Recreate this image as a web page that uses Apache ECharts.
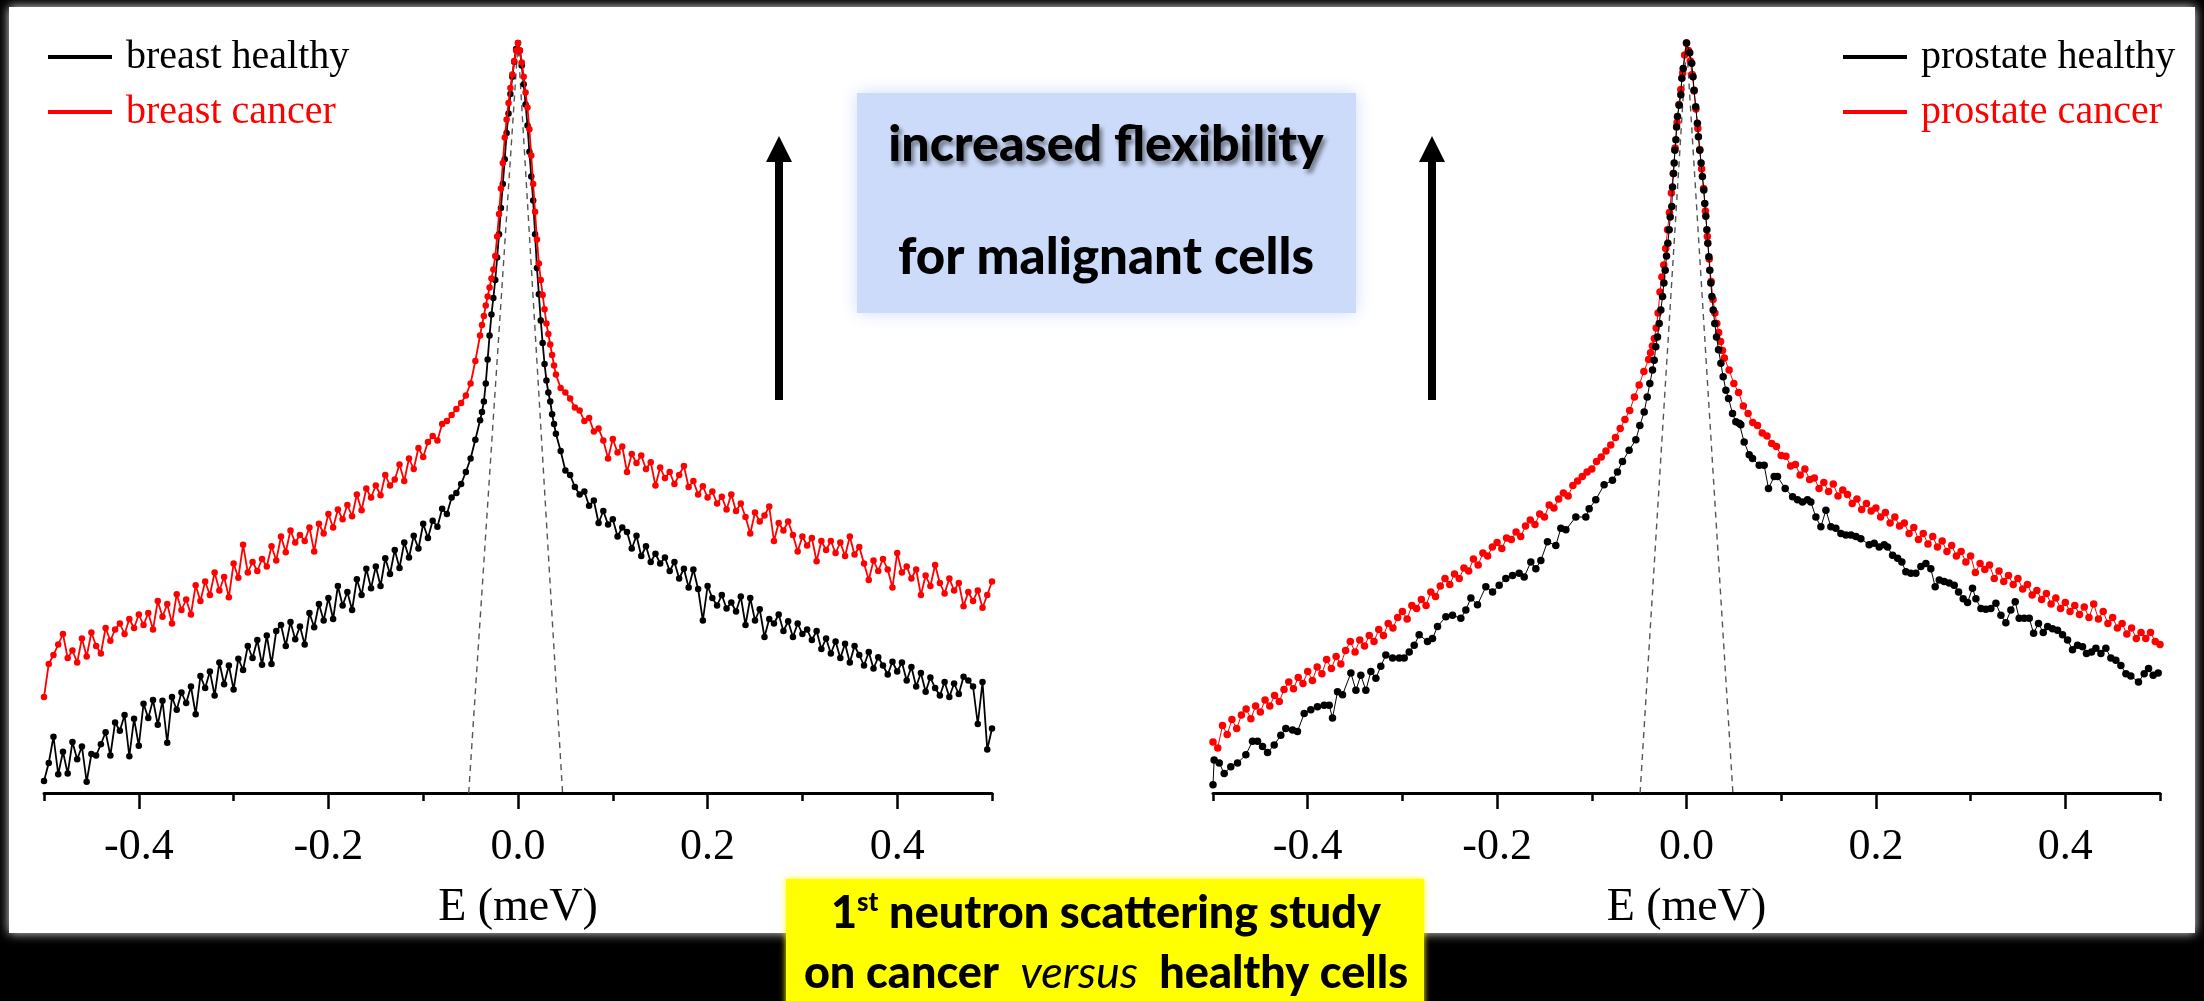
<!DOCTYPE html>
<html><head><meta charset="utf-8">
<script src="https://cdn.jsdelivr.net/npm/echarts@6/dist/echarts.min.js"></script>
<style>html,body{margin:0;padding:0;background:#000;}#c{width:2204px;height:1001px;}</style>
</head><body><div id="c"></div>
<script>
// ---------- energy grid (meV) shared by breast series and prostate cancer ----------
const energyGrid = [
-0.500,-0.495,-0.490,-0.485,-0.480,-0.475,-0.470,-0.465,-0.460,-0.455,
-0.450,-0.445,-0.440,-0.435,-0.430,-0.425,-0.420,-0.415,-0.410,-0.405,
-0.400,-0.395,-0.390,-0.385,-0.380,-0.375,-0.370,-0.365,-0.360,-0.355,
-0.350,-0.345,-0.340,-0.335,-0.330,-0.325,-0.320,-0.315,-0.310,-0.305,
-0.300,-0.295,-0.290,-0.285,-0.280,-0.275,-0.270,-0.265,-0.260,-0.255,
-0.250,-0.245,-0.240,-0.235,-0.230,-0.225,-0.220,-0.215,-0.210,-0.205,
-0.200,-0.195,-0.190,-0.185,-0.180,-0.175,-0.170,-0.165,-0.160,-0.155,
-0.150,-0.145,-0.140,-0.135,-0.130,-0.125,-0.120,-0.115,-0.110,-0.105,
-0.100,-0.095,-0.090,-0.085,-0.080,-0.075,-0.070,-0.065,-0.060,-0.055,
-0.050,-0.045,
-0.040,-0.038,-0.036,-0.034,-0.032,-0.030,-0.028,-0.026,-0.024,-0.022,
-0.020,-0.018,-0.016,-0.014,-0.012,-0.010,-0.008,-0.006,-0.004,-0.002,
0.000,
0.002,0.004,0.006,0.008,0.010,0.012,0.014,0.016,0.018,0.020,
0.022,0.024,0.026,0.028,0.030,0.032,0.034,0.036,0.038,0.040,
0.045,0.050,0.055,0.060,0.065,0.070,0.075,0.080,0.085,0.090,
0.095,0.100,0.105,0.110,0.115,0.120,0.125,0.130,0.135,0.140,
0.145,0.150,0.155,0.160,0.165,0.170,0.175,0.180,0.185,0.190,
0.195,0.200,0.205,0.210,0.215,0.220,0.225,0.230,0.235,0.240,
0.245,0.250,0.255,0.260,0.265,0.270,0.275,0.280,0.285,0.290,
0.295,0.300,0.305,0.310,0.315,0.320,0.325,0.330,0.335,0.340,
0.345,0.350,0.355,0.360,0.365,0.370,0.375,0.380,0.385,0.390,
0.395,0.400,0.405,0.410,0.415,0.420,0.425,0.430,0.435,0.440,
0.445,0.450,0.455,0.460,0.465,0.470,0.475,0.480,0.485,0.490,
0.495,0.500
];

// intensity in arbitrary display units (axis line = 0, elastic peak = 100)
const breastHealthy = [
1.6,4.0,7.5,2.5,5.5,2.6,6.8,4.5,6.2,1.5,
5.2,5.0,6.5,8.1,5.0,9.4,8.3,10.4,4.9,9.9,
6.3,11.9,10.0,12.4,9.1,12.3,6.7,12.8,11.1,13.4,
12.0,14.2,10.5,15.6,14.0,16.2,13.0,17.4,14.5,17.0,
13.8,17.9,16.4,19.6,18.0,20.4,17.1,21.0,17.2,21.6,
22.4,19.6,22.8,20.5,22.2,19.8,24.0,22.1,25.2,23.0,
26.0,23.2,27.6,25.0,26.8,24.4,28.5,26.4,29.9,27.3,
30.2,27.6,31.3,29.2,32.4,30.0,33.4,31.4,34.3,32.6,
35.9,34.0,36.3,35.5,37.9,37.2,39.4,40.0,41.2,42.8,
44.6,47.1,
49.7,50.8,52.2,54.6,57.8,61.0,63.8,66.0,68.4,71.4,
74.5,78.0,81.2,84.5,88.0,90.6,93.2,95.5,97.5,99.2,
100,
99.0,97.0,94.5,91.8,89.0,85.5,82.2,79.0,74.5,70.0,
66.5,63.0,60.0,57.2,55.0,53.4,52.2,50.5,49.2,47.9,
45.6,43.0,42.4,40.8,39.8,40.2,38.3,39.0,36.0,37.6,
35.8,36.5,34.2,35.4,34.8,32.6,34.3,31.6,32.9,30.8,
31.9,30.6,31.4,29.6,30.8,28.6,29.9,27.4,29.8,27.2,
23.0,27.6,26.0,25.0,26.4,24.6,25.4,24.2,26.2,22.4,
26.0,23.0,24.5,20.8,23.2,22.6,23.8,21.6,22.9,20.8,
22.6,21.2,21.8,20.4,21.6,19.2,20.6,18.6,20.2,18.0,
19.9,17.4,19.6,18.4,17.0,18.8,16.6,18.1,17.0,15.8,
17.5,16.2,17.4,15.0,16.8,14.2,16.0,13.5,15.4,14.0,
13.0,14.8,12.8,14.6,13.2,15.5,15.0,14.2,9.2,14.8,
5.8,8.6
];

const breastCancer = [
12.8,17.2,18.4,19.8,21.2,18.0,19.0,17.4,20.6,18.2,
21.4,19.6,18.6,22.0,20.3,21.8,22.6,21.2,23.2,22.0,
23.8,22.4,24.0,21.8,25.6,23.5,25.2,22.6,26.5,24.4,
25.8,23.8,27.7,25.6,28.2,26.4,29.4,27.0,28.8,26.1,
30.6,28.7,33.1,29.4,30.8,29.6,31.2,30.2,32.9,31.0,
34.2,32.1,35.0,33.4,34.4,33.6,35.4,32.2,35.9,34.6,
37.2,35.4,37.8,36.5,38.4,36.9,39.8,37.7,40.6,39.4,
41.0,39.7,42.4,41.0,41.8,43.8,41.6,44.6,43.2,46.0,
44.8,46.8,47.6,47.0,49.2,49.6,50.4,51.2,52.0,53.0,
54.6,57.6,
61.0,62.4,63.6,65.0,66.2,67.4,68.6,69.8,71.6,74.2,
77.2,80.6,84.0,87.4,89.8,92.0,94.0,95.8,97.6,99.0,
100,
99.0,97.4,95.5,93.4,91.4,88.5,85.0,81.2,77.5,73.8,
70.6,68.4,66.4,64.5,62.6,61.2,59.8,58.4,57.0,55.8,
54.0,53.4,52.6,51.4,51.0,49.6,50.0,48.2,48.6,47.0,
44.6,47.2,45.4,46.2,42.8,45.2,44.0,45.0,43.2,44.1,
41.0,43.4,42.0,42.8,41.2,42.4,43.6,40.8,41.6,39.8,
40.9,39.4,40.2,38.6,39.5,37.8,39.8,37.6,38.6,36.8,
34.6,37.4,36.2,37.0,38.2,33.6,36.0,35.0,36.2,34.4,
32.2,34.2,33.0,34.0,30.9,33.6,32.4,33.6,32.0,33.4,
31.6,34.2,31.8,32.8,30.6,28.4,31.0,29.6,31.2,29.8,
27.4,32.0,29.4,30.2,28.6,29.8,26.4,29.0,27.6,30.4,
28.0,26.6,28.6,27.0,28.0,24.9,26.8,25.6,27.0,24.7,
26.4,28.2
];

const prostateCancer = [
6.8,6.0,9.0,7.8,9.8,8.6,10.4,11.2,9.9,11.6,
10.8,12.4,11.6,13.0,12.2,13.8,14.8,13.9,15.4,14.6,
16.2,15.0,16.8,15.9,17.8,16.6,18.2,17.2,19.0,20.2,
18.8,20.4,19.6,21.0,20.2,21.8,21.0,22.6,22.0,23.4,
24.2,23.2,25.0,24.6,25.8,25.0,26.8,26.2,27.6,28.6,
27.8,29.2,28.6,30.0,29.6,31.2,30.4,32.0,31.6,32.8,
33.4,32.6,34.0,33.8,34.8,34.2,35.6,36.4,35.8,37.2,
36.8,38.4,38.0,39.2,40.0,39.6,41.0,41.6,42.2,42.8,
43.2,44.2,44.8,45.6,46.4,47.4,48.6,49.8,51.0,52.8,
54.4,56.2,
57.8,58.7,59.6,60.6,62.0,64.0,66.8,68.8,70.4,72.6,
75.1,77.4,80.0,82.6,86.0,89.4,91.8,93.8,96.0,98.4,
100,
99.0,97.6,95.8,93.6,91.2,88.6,85.8,83.2,80.6,77.6,
74.2,71.2,68.2,65.8,64.0,62.6,61.4,60.2,59.0,58.0,
56.4,54.6,53.4,51.6,50.6,49.4,49.0,48.0,47.6,46.6,
46.2,45.0,44.9,43.6,43.8,42.4,43.2,41.8,42.0,40.6,
41.4,40.2,41.2,39.6,40.4,39.8,38.6,39.2,37.8,38.6,
37.6,38.0,36.8,37.4,36.0,36.8,35.6,36.0,34.6,35.4,
33.8,34.6,33.2,34.2,32.8,33.6,32.2,33.0,31.6,32.2,
30.8,31.6,29.4,30.6,29.8,30.4,28.6,29.6,28.2,29.0,
27.8,28.6,27.2,27.8,26.4,27.0,25.8,26.6,25.2,26.0,
24.6,25.4,24.2,25.0,23.8,24.8,23.4,25.2,23.2,24.2,
22.6,23.4,22.0,22.6,21.2,22.0,20.6,21.4,20.6,21.4,
20.2,19.8
];

// prostate healthy: points read individually (own energy list)
const prostateHealthyE = [
-0.500,-0.4988,-0.4934,-0.4882,-0.4812,-0.4741,-0.4653,-0.4583,-0.4530,-0.4477,
-0.4424,-0.4354,-0.4284,-0.4231,-0.4160,-0.4108,-0.4037,-0.3967,-0.3897,-0.3826,
-0.3773,-0.3738,-0.3685,-0.3632,-0.3544,-0.3491,-0.3439,-0.3386,-0.3333,-0.3280,
-0.3228,-0.3175,-0.3104,-0.3034,-0.2981,-0.2928,-0.2875,-0.2823,-0.2735,-0.2682,
-0.2629,-0.2541,-0.2471,-0.2383,-0.2330,-0.2277,-0.2207,-0.2119,-0.2048,-0.1978,
-0.1908,-0.1837,-0.1767,-0.1714,-0.1644,-0.1591,-0.1538,-0.1468,-0.1380,-0.1327,
-0.1274,-0.1169,-0.1063,-0.1028,-0.0958,-0.0870,-0.0782,-0.0729,-0.0676,-0.0606,
-0.0535,-0.0493,-0.0447,-0.0415,-0.0387,-0.0359,-0.0341,-0.0324,-0.0306,-0.0288,
-0.0271,-0.0253,-0.0239,-0.0225,-0.0211,-0.0197,-0.0183,-0.0172,-0.0155,-0.0148,
-0.0137,-0.0130,-0.0123,-0.0112,-0.0105,-0.0095,-0.0077,-0.0060,-0.0049,-0.0035,
0.0000,
0.0034,0.0055,0.0069,0.0080,0.0097,0.0115,0.0126,0.0140,0.0154,0.0168,
0.0183,0.0193,0.0204,0.0215,0.0225,0.0236,0.0246,0.0257,0.0268,0.0282,
0.0299,0.0317,0.0338,0.0363,0.0387,0.0416,0.0444,0.0486,0.0521,0.0556,
0.0574,0.0609,0.0662,0.0697,0.0768,0.0820,0.0866,0.0926,0.0961,0.1042,
0.1120,0.1172,0.1225,0.1278,0.1313,0.1366,0.1419,0.1472,0.1524,0.1577,
0.1630,0.1683,0.1736,0.1789,0.1841,0.1929,0.1982,0.2035,0.2088,0.2123,
0.2176,0.2229,0.2274,0.2316,0.2369,0.2422,0.2475,0.2528,0.2580,0.2626,
0.2669,0.2721,0.2774,0.2827,0.2873,0.2922,0.2968,0.3020,0.3056,0.3109,
0.3161,0.3214,0.3267,0.3320,0.3372,0.3425,0.3471,0.3513,0.3566,0.3619,
0.3665,0.3717,0.3767,0.3813,0.3865,0.3918,0.3971,0.4024,0.4076,0.4129,
0.4182,0.4224,0.4277,0.4323,0.4376,0.4428,0.4481,0.4534,0.4587,0.4640,
0.4692,0.4773,0.4833,0.4879,0.4928,0.4981
];
const prostateHealthy = [
1.1,4.4,4.0,2.6,3.5,4.0,5.1,6.9,6.9,6.2,
5.4,6.4,7.7,8.6,8.4,8.2,10.6,11.1,11.5,11.7,
11.7,10.0,13.5,13.1,16.0,13.7,15.7,13.7,16.2,15.3,
16.9,18.4,18.0,18.0,18.0,18.8,19.7,21.1,20.2,20.6,
22.2,23.5,23.7,23.3,24.4,26.0,25.1,27.5,26.8,27.7,
28.6,29.0,29.3,28.8,30.8,29.9,31.0,33.5,33.0,35.3,
35.1,36.8,36.8,37.9,39.1,41.1,41.7,42.8,44.2,45.7,
47.1,49.0,50.8,52.8,54.6,56.4,57.7,59.5,60.8,62.6,
64.4,66.2,68.0,69.7,71.6,73.3,75.1,76.8,78.2,80.8,
82.6,84.0,85.7,87.1,88.8,90.2,91.7,93.1,95.3,96.6,
100,
98.7,97.3,95.5,93.7,91.5,89.3,87.5,85.7,84.0,82.2,
80.4,78.6,76.9,75.1,73.3,71.5,69.7,68.0,66.2,64.4,
62.6,60.8,59.1,57.3,55.5,53.7,52.6,50.6,49.5,49.3,
49.1,46.8,45.1,44.6,43.7,43.7,40.6,42.2,42.2,40.6,
39.5,39.1,38.8,39.1,38.8,36.8,35.5,37.7,35.5,35.3,
34.6,34.4,34.4,34.2,33.9,33.1,33.3,32.8,33.1,32.8,
31.7,31.3,30.8,29.5,29.3,29.3,30.2,30.6,29.9,27.5,
28.4,28.2,28.0,27.7,26.8,25.9,25.4,27.3,25.9,24.6,
24.5,24.6,25.3,23.7,22.7,24.4,25.5,23.3,23.3,23.3,
21.3,22.6,21.4,22.2,21.9,21.7,21.1,20.4,19.1,19.7,
19.5,18.6,18.8,19.3,18.6,19.3,18.0,17.7,17.0,15.9,
15.6,14.8,15.9,16.6,15.7,16.0
];

// instrumental resolution (dashed)
const resolutionLeftE = [-0.052, 0.0, 0.047];
const resolutionLeft  = [0, 100, 0];
const resolutionRightE = [-0.049, 0.0, 0.049];
const resolutionRight  = [0, 100, 0];

const xTickValues = [-0.4, -0.2, 0.0, 0.2, 0.4];
const legendLeft  = ['breast healthy', 'breast cancer'];
const legendRight = ['prostate healthy', 'prostate cancer'];

// ---------- build chart ----------
const pairs = (xs, ys) => xs.map((x, i) => [x, ys[i]]);
const serif = 'Liberation Serif';
const BLACK = '#000000', RED = '#ff0000';

function tickLabel(v) {
  for (const t of xTickValues) if (Math.abs(v - t) < 1e-6) return t.toFixed(1);
  return '';
}

function labelAxis(gi) {
  return {
    gridIndex: gi, type: 'value', position: 'bottom', min: -0.5, max: 0.5, interval: 0.1,
    axisLine: { show: true, onZero: false, lineStyle: { color: BLACK, width: 3 } },
    axisTick: { show: false },
    axisLabel: { formatter: tickLabel, fontFamily: serif, fontSize: 44, color: BLACK, margin: 32 },
    splitLine: { show: false },
    name: 'E (meV)', nameLocation: 'middle', nameGap: 92,
    nameTextStyle: { fontFamily: serif, fontSize: 46, color: BLACK }
  };
}
function tickAxis(gi) {
  return {
    gridIndex: gi, type: 'value', position: 'bottom', min: -0.5, max: 0.5, interval: 0.2,
    axisLine: { show: false, onZero: false },
    axisLabel: { show: false },
    axisTick: { show: true, length: 8, lineStyle: { color: BLACK, width: 2.5 } },
    minorTick: { show: true, splitNumber: 2, length: 16, lineStyle: { color: BLACK, width: 2.5 } },
    splitLine: { show: false }, minorSplitLine: { show: false }
  };
}

function dataSeries(name, xi, yi, xs, ys, color, symSize, lw, z) {
  return {
    name, type: 'line', xAxisIndex: xi, yAxisIndex: yi, data: pairs(xs, ys),
    symbol: 'circle', symbolSize: symSize, showSymbol: true,
    itemStyle: { color }, lineStyle: { color, width: lw }, z, animation: false
  };
}
function resSeries(xi, yi, xs, ys) {
  return {
    name: 'resolution', type: 'line', xAxisIndex: xi, yAxisIndex: yi, data: pairs(xs, ys),
    symbol: 'none', lineStyle: { color: '#555', width: 1.4, type: [6, 5] }, z: 1, animation: false
  };
}

function legendCfg(left, names, colors) {
  return {
    left, top: 32, orient: 'vertical', icon: 'rect', itemWidth: 64, itemHeight: 4, itemGap: 15,
    selectedMode: false,
    textStyle: { fontFamily: serif, fontSize: 40, padding: [0, 0, 0, 9] },
    data: names.map((n, i) => ({ name: n, textStyle: { color: colors[i] } }))
  };
}

const calibriLike = 'Lato';
const chart = echarts.init(document.getElementById('c'), null, { renderer: 'canvas' });
chart.setOption({
  backgroundColor: '#000',
  animation: false,
  grid: [
    { left: 44, top: 43, width: 948, height: 750 },
    { left: 1213, top: 43, width: 947, height: 750 }
  ],
  xAxis: [labelAxis(0), tickAxis(0), labelAxis(1), tickAxis(1)],
  yAxis: [
    { gridIndex: 0, type: 'value', min: 0, max: 100, show: false },
    { gridIndex: 1, type: 'value', min: 0, max: 100, show: false }
  ],
  legend: [
    legendCfg(43, legendLeft, [BLACK, RED]),
    legendCfg(1838, legendRight, [BLACK, RED])
  ],
  series: [
    resSeries(0, 0, resolutionLeftE, resolutionLeft),
    dataSeries('breast healthy', 0, 0, energyGrid, breastHealthy, BLACK, 6.5, 1.8, 3),
    dataSeries('breast cancer', 0, 0, energyGrid, breastCancer, RED, 6.5, 1.8, 4),
    resSeries(2, 1, resolutionRightE, resolutionRight),
    dataSeries('prostate cancer', 2, 1, energyGrid, prostateCancer, RED, 7.5, 1, 3),
    dataSeries('prostate healthy', 2, 1, prostateHealthyE, prostateHealthy, BLACK, 7.5, 1, 4)
  ],
  graphic: [
    { type: 'rect', z: -100, silent: true, shape: { x: 9, y: 7, width: 2186, height: 926 },
      style: { fill: '#ffffff', shadowBlur: 10, shadowColor: 'rgba(255,255,255,0.9)' } },
    { type: 'rect', z: 1, silent: true, shape: { x: 857, y: 93, width: 499, height: 220 },
      style: { fill: '#cddbfa', shadowBlur: 16, shadowColor: '#cddbfa' } },
    { type: 'text', z: 2, silent: true, x: 1106, y: 145,
      style: { text: 'increased flexibility', fill: '#000', font: '900 50px ' + calibriLike, align: 'center', verticalAlign: 'middle',
               textShadowColor: 'rgba(0,0,0,0.45)', textShadowBlur: 4, textShadowOffsetX: 3, textShadowOffsetY: 4 } },
    { type: 'text', z: 2, silent: true, x: 1106, y: 258,
      style: { text: 'for malignant cells', fill: '#000', font: '900 51px ' + calibriLike, align: 'center', verticalAlign: 'middle' } },
    { type: 'rect', z: 1, silent: true, shape: { x: 775, y: 158, width: 8, height: 242 }, style: { fill: '#000' } },
    { type: 'polygon', z: 1, silent: true, shape: { points: [[779, 136], [766, 162], [792, 162]] }, style: { fill: '#000' } },
    { type: 'rect', z: 1, silent: true, shape: { x: 1428, y: 158, width: 8, height: 242 }, style: { fill: '#000' } },
    { type: 'polygon', z: 1, silent: true, shape: { points: [[1432, 136], [1419, 162], [1445, 162]] }, style: { fill: '#000' } },
    { type: 'rect', z: 5, silent: true, shape: { x: 786, y: 879, width: 638, height: 130 },
      style: { fill: '#ffff00', shadowBlur: 6, shadowColor: '#ffff00' } },
    { type: 'text', z: 6, silent: true, x: 1106, y: 913,
      style: { text: '{a|1}{s|st}{a| neutron scattering study}', align: 'center', verticalAlign: 'middle',
               rich: { a: { fontFamily: calibriLike, fontWeight: 900, fontSize: 45, color: '#000', lineHeight: 46 },
                       s: { fontFamily: calibriLike, fontWeight: 900, fontSize: 26, color: '#000', verticalAlign: 'top', lineHeight: 46 } } } },
    { type: 'text', z: 6, silent: true, x: 1106, y: 973,
      style: { text: '{a|on cancer  }{i|versus}{a|  healthy cells}', align: 'center', verticalAlign: 'middle',
               rich: { a: { fontFamily: calibriLike, fontWeight: 900, fontSize: 45, color: '#000' },
                       i: { fontFamily: calibriLike, fontStyle: 'italic', fontWeight: 'normal', fontSize: 45, color: '#000' } } } }
  ]
});
</script>
</body></html>
